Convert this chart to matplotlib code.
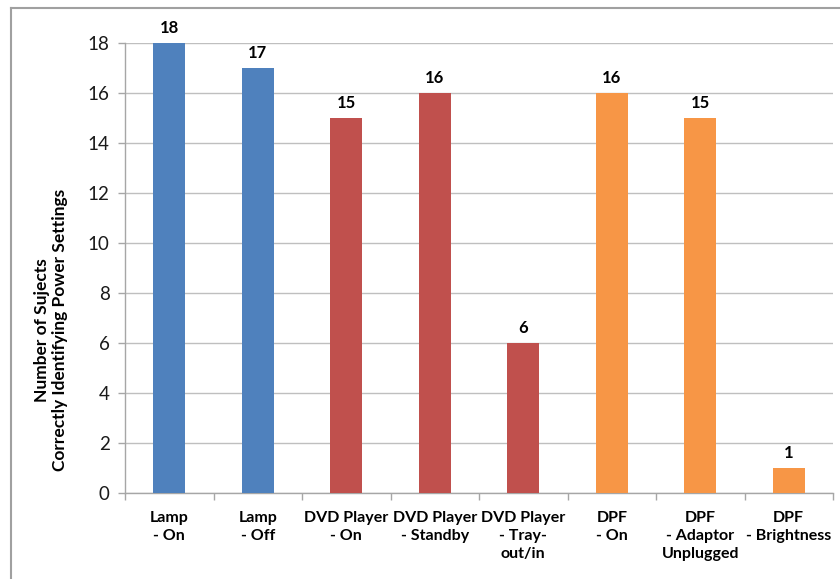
import matplotlib
matplotlib.use("Agg")
import matplotlib.pyplot as plt
from matplotlib.lines import Line2D

categories = [
    "Lamp\n- On",
    "Lamp\n- Off",
    "DVD Player\n- On",
    "DVD Player\n- Standby",
    "DVD Player\n- Tray-\nout/in",
    "DPF\n- On",
    "DPF\n- Adaptor\nUnplugged",
    "DPF\n- Brightness",
]
values = [18, 17, 15, 16, 6, 16, 15, 1]
device_groups = ["lamp", "lamp", "dvd", "dvd", "dvd", "dpf", "dpf", "dpf"]
group_colors = {"lamp": "#4F81BD", "dvd": "#C0504D", "dpf": "#F79646"}
y_ticks = [0, 2, 4, 6, 8, 10, 12, 14, 16, 18]

plt.rcParams["font.family"] = ["Lato", "DejaVu Sans"]

fig = plt.figure(figsize=(8.4, 5.79), dpi=100)
ax = fig.add_axes([125 / 840, 1 - 493 / 579, (833 - 125) / 840, (493 - 43) / 579])

x = list(range(len(categories)))
colors = [group_colors[g] for g in device_groups]
bars = ax.bar(x, values, width=0.36, color=colors, zorder=3)

for xi, v in zip(x, values):
    ax.annotate(str(v), (xi, v), xytext=(0, 5), textcoords="offset points",
                ha="center", va="bottom", fontsize=12, fontweight="bold",
                color="#000000")

ax.set_xlim(-0.5, len(categories) - 0.5)
ax.set_ylim(0, 18)
ax.set_yticks(y_ticks)
ax.set_yticklabels([str(t) for t in y_ticks], fontsize=13.5, color="#1a1a1a")
ax.grid(axis="y", color="#BFBFBF", linewidth=1.0, zorder=0)
ax.set_axisbelow(True)

ax.set_xticks(x)
ax.set_xticklabels(categories, fontsize=11.5, fontweight="bold",
                   linespacing=1.38, va="top")
ax.tick_params(axis="x", length=0, pad=13)
ax.tick_params(axis="y", length=5, color="#A6A6A6", width=1, pad=6)

# category boundary tick marks below the baseline
ax.set_xticks([i - 0.5 for i in range(len(categories) + 1)], minor=True)
ax.tick_params(axis="x", which="minor", length=5, color="#A6A6A6", width=1)

for side in ["top", "right"]:
    ax.spines[side].set_visible(False)
for side in ["left", "bottom"]:
    ax.spines[side].set_color("#A6A6A6")
    ax.spines[side].set_linewidth(1)

fig.text(51 / 840, 1 - 330 / 579,
         "Number of Sujects\nCorrectly Identifying Power Settings",
         rotation=90, ha="center", va="center", fontsize=12.5,
         fontweight="bold", linespacing=1.15)

# outer chart frame (left and top edges)
fig.add_artist(Line2D([11 / 840, 11 / 840], [0, 1 - 8 / 579],
                      transform=fig.transFigure, color="#A0A0A0", linewidth=1.5))
fig.add_artist(Line2D([11 / 840, 1], [1 - 8 / 579, 1 - 8 / 579],
                      transform=fig.transFigure, color="#A0A0A0", linewidth=1.5))

fig.savefig("out.png", dpi=100, facecolor="white")
